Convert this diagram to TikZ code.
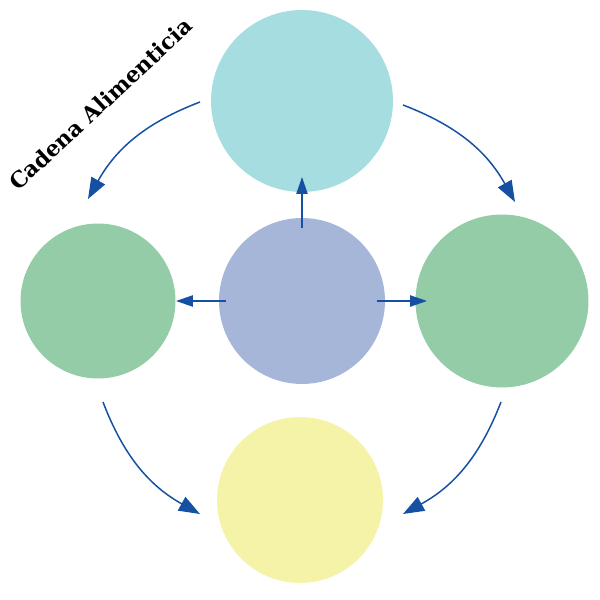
\documentclass[tikz,border=0pt]{standalone}
\usepackage{fontspec}
\newfontfamily\titlefont{DejaVu Serif}
\usetikzlibrary{arrows.meta,calc}
\definecolor{cTop}{HTML}{A6DDE0}
\definecolor{cGreen}{HTML}{95CCA8}
\definecolor{cMid}{HTML}{A5B6D8}
\definecolor{cYellow}{HTML}{F4F3A8}
\definecolor{cArrow}{HTML}{1550A2}
\begin{document}
\begin{tikzpicture}[x=0.02cm,y=0.02cm,
  blob/.style={circle,inner sep=0pt,draw=none},
  straightarrow/.style={draw=cArrow,line width=0.75pt,-{Triangle[length=9.6pt,width=6.4pt]},color=cArrow},
  curvearrow/.style={draw=cArrow,line width=0.85pt,-{Triangle[length=12pt,width=8.8pt]},color=cArrow}]
\useasboundingbox (0,0) rectangle (600,600);
\node[blob,fill=cTop,minimum size=3.64cm] (top) at (302,499) {};
\node[blob,fill=cGreen,minimum size=3.10cm] (left) at (98,299) {};
\node[blob,fill=cMid,minimum size=3.32cm] (ctr) at (302,299) {};
\node[blob,fill=cGreen,minimum size=3.46cm] (right) at (502,299) {};
\node[blob,fill=cYellow,minimum size=3.32cm] (bottom) at (300,100) {};
% straight arrows
\draw[straightarrow] ($(ctr)+(0,73)$) -- ($(top)+(0,-76)$);
\draw[straightarrow] ($(ctr)+(-76,0)$) -- ($(left)+(78,0)$);
\draw[straightarrow] ($(ctr)+(75,0)$) -- ($(right)+(-75,0)$);
% curved arrows
\draw[curvearrow] ($(top)+(-102,-1)$) to[bend right=20] ($(left)+(-10,102)$);
\draw[curvearrow] ($(top)+(101,-4)$) to[bend left=20] ($(right)+(13,99)$);
\draw[curvearrow] ($(left)+(5,-101)$) to[bend right=20] ($(bottom)+(-100,-14)$);
\draw[curvearrow] ($(right)+(-1,-101)$) to[bend left=20] ($(bottom)+(103,-14)$);
% title
\node[rotate=43,anchor=base,inner sep=0pt,font=\titlefont\bfseries\fontsize{12.5pt}{15pt}\selectfont] (title) at (106,490) {Cadena Alimenticia};
\end{tikzpicture}
\end{document}
